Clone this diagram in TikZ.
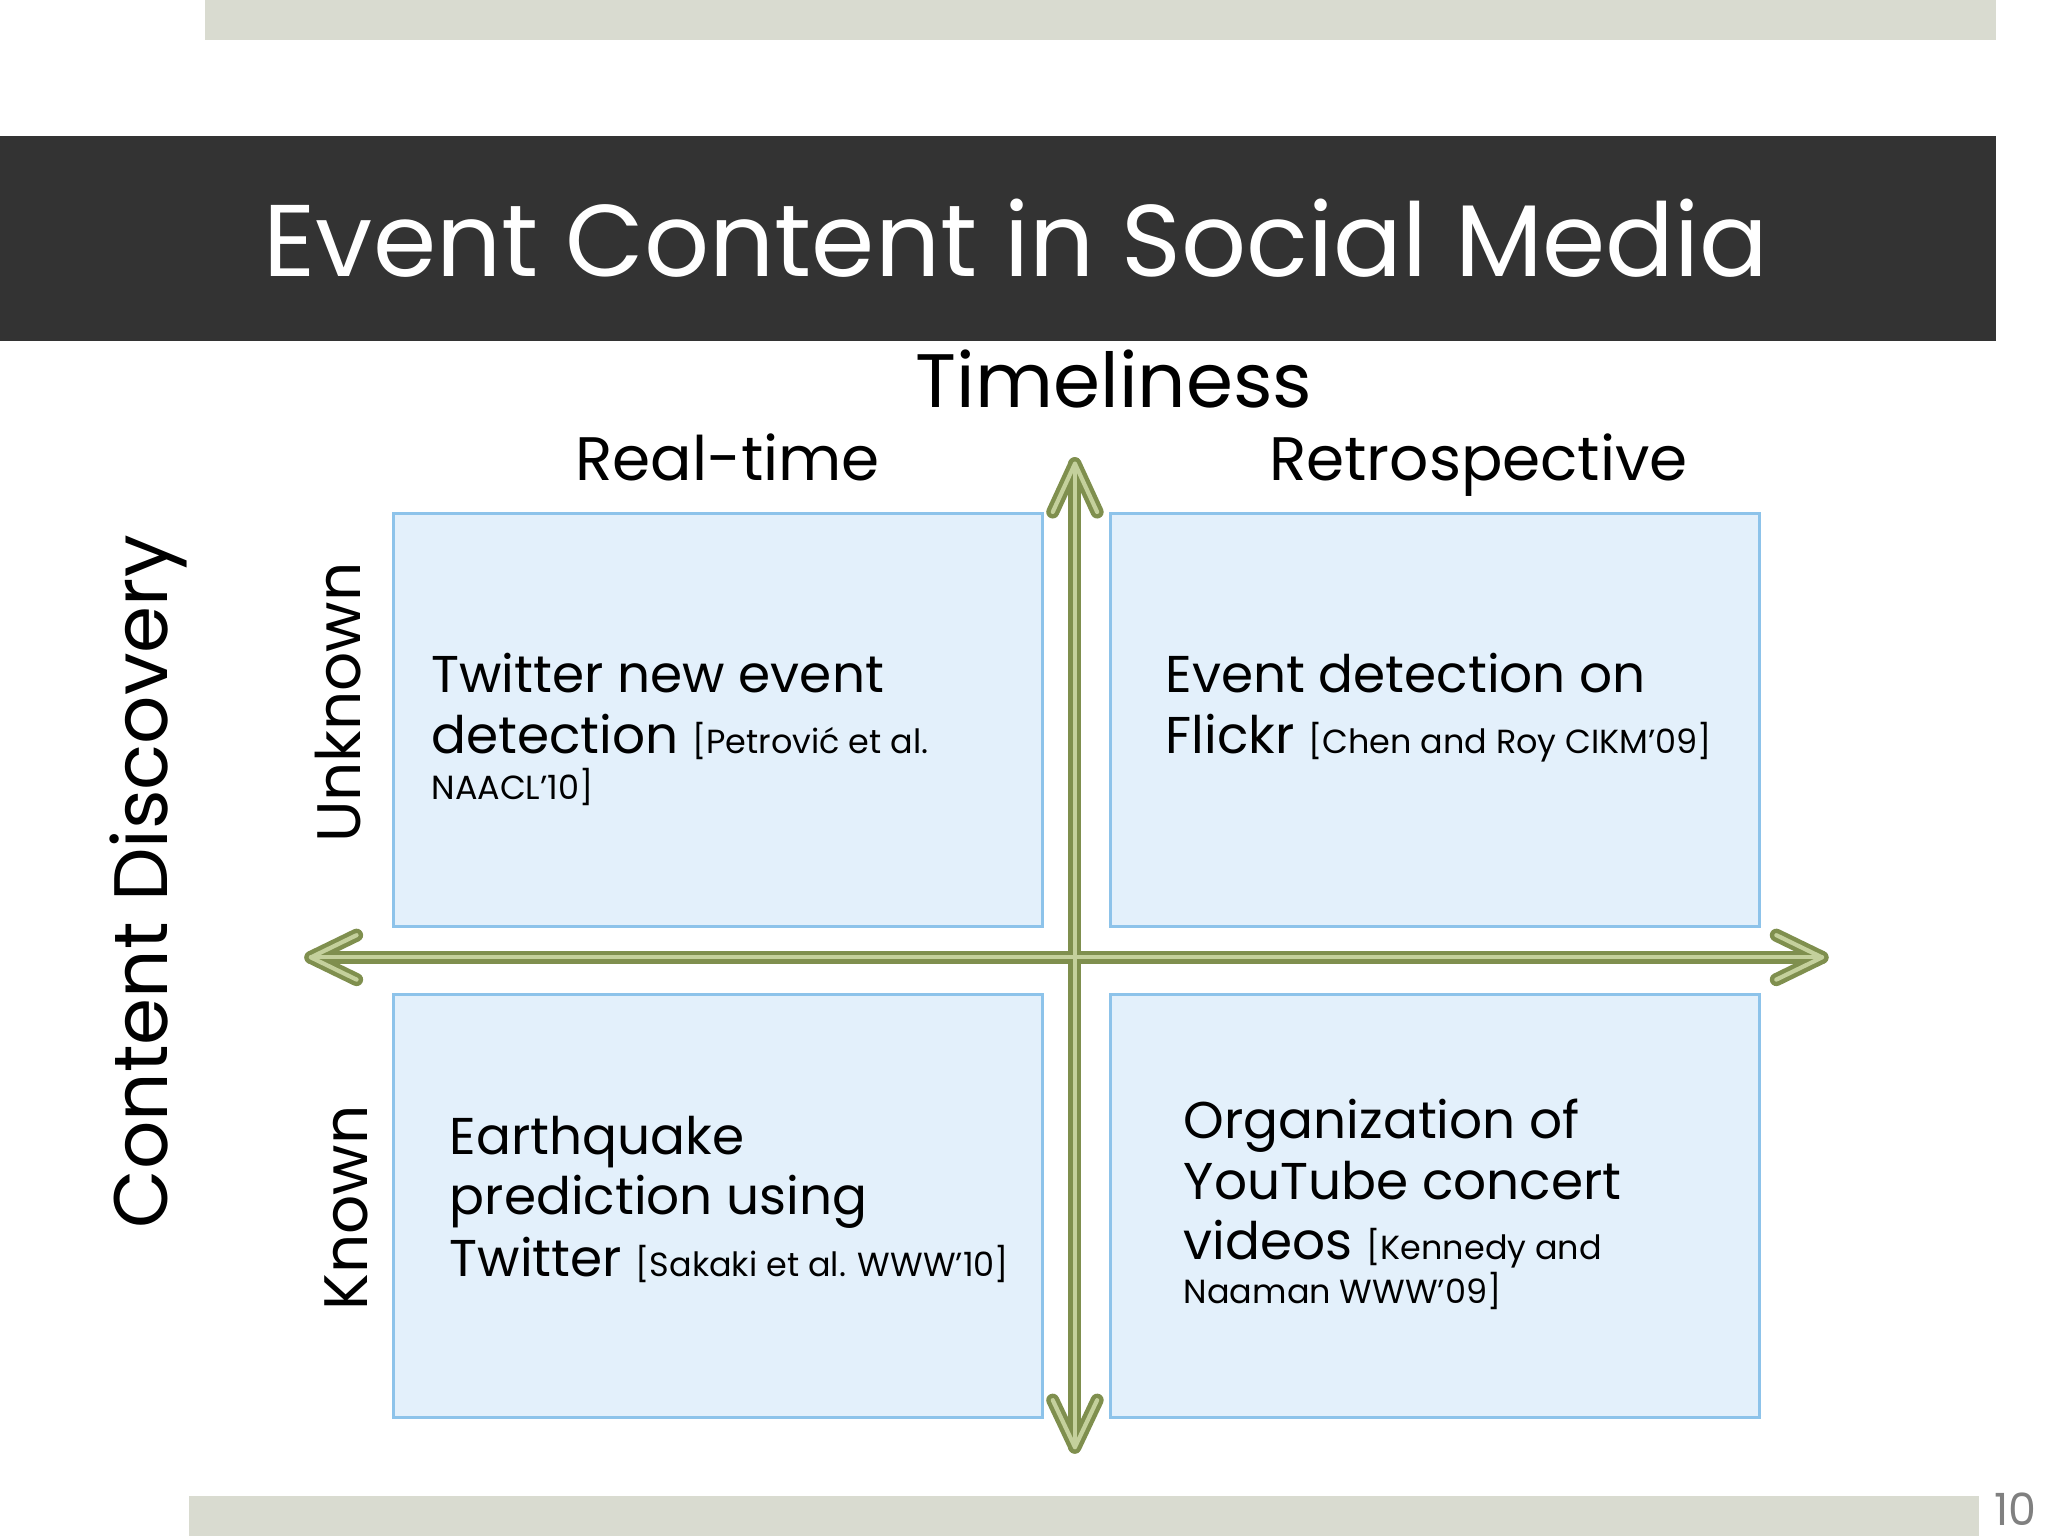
\documentclass[tikz,border=0pt]{standalone}
\usepackage{fontspec}
\setmainfont{Poppins}
\newcommand\csz{\fontsize{12.8}{15}\selectfont}
\begin{document}
\begin{tikzpicture}[x=0.5pt,y=-0.5pt,
  qbox/.style={fill=qfill,draw=qline,line width=1.2pt},
  big/.style={font=\fontsize{19.8}{23}\selectfont,anchor=base west,inner sep=0},
  citestyle/.style={font=\csz},
  axisout/.style={draw=axdark,line width=5pt,line cap=round,line join=round},
  axisin/.style={draw=axlight,line width=1.6pt,line cap=round,line join=round}]
\definecolor{qfill}{HTML}{E3F0FB}
\definecolor{qline}{HTML}{8DC3EA}
\definecolor{axdark}{HTML}{7F8F4E}
\definecolor{axlight}{HTML}{C4D09C}
\definecolor{barc}{HTML}{D9DBD0}
\definecolor{bandc}{HTML}{333333}
\useasboundingbox (0,0) rectangle (1568,1176);
\fill[white] (0,0) rectangle (1568,1176);
\fill[barc] (157,0) rectangle (1528,31);
\fill[barc] (145,1145) rectangle (1515,1176);
\fill[bandc] (0,104) rectangle (1528,261);
\node[font=\fontsize{39}{44}\selectfont,text=white,anchor=base] (title) at (778,212) {Event Content in Social Media};
\node[font=\fontsize{17}{20}\selectfont,text=gray,anchor=base] (pg) at (1543,1168) {10};
% boxes
\node[qbox,minimum width=248.5pt,minimum height=158pt,anchor=north west] (tl) at (300,392) {};
\node[qbox,minimum width=248.5pt,minimum height=158pt,anchor=north west] (tr) at (849,392) {};
\node[qbox,minimum width=248.5pt,minimum height=162pt,anchor=north west] (bl) at (300,760) {};
\node[qbox,minimum width=248.5pt,minimum height=162pt,anchor=north west] (br) at (849,760) {};
% axes
\coordinate (vt) at (823,355); \coordinate (vb) at (823,1108);
\coordinate (hl) at (238,733); \coordinate (hr) at (1395,733);
\foreach \s in {axisout,axisin}{
 \draw[\s] (vt) -- (vb);
 \draw[\s] (hl) -- (hr);
 \draw[\s] (806,392) -- (vt) -- (840,392);
 \draw[\s] (806,1072) -- (vb) -- (840,1072);
 \draw[\s] (273,716) -- (hl) -- (273,750);
 \draw[\s] (1360,716) -- (hr) -- (1360,750);
}
% labels
\node[font=\fontsize{29}{34}\selectfont,anchor=base] (tim) at (853,312) {Timeliness};
\node[font=\fontsize{23.5}{28}\selectfont,anchor=base] (rt) at (557,368) {Real-time};
\node[font=\fontsize{23.5}{28}\selectfont,anchor=base] (retro) at (1132,368) {Retrospective};
\node[font=\fontsize{29}{34}\selectfont,anchor=base,rotate=90] (cd) at (128,675) {Content Discovery};
\node[font=\fontsize{23.5}{28}\selectfont,anchor=base,rotate=90] (unk) at (276,538) {Unknown};
\node[font=\fontsize{23.5}{28}\selectfont,anchor=base,rotate=90] (kn) at (281,925) {Known};
% texts
\node[big] (a1) at (330,530) {Twitter new event};
\node[big] (a2) at (330,577) {detection {\csz [Petrović et al.}};
\node[big,citestyle] (a3) at (330,612) {NAACL’10]};
\node[big] (b1) at (892,530) {Event detection on};
\node[big] (b2) at (892,577) {Flickr {\csz [Chen and Roy CIKM’09]}};
\node[big] (c1) at (344,884) {Earthquake};
\node[big] (c2) at (344,930) {prediction using};
\node[big] (c3) at (344,977) {Twitter {\csz [Sakaki et al. WWW’10]}};
\node[big] (d1) at (906,872) {Organization of};
\node[big] (d2) at (906,918) {YouTube concert};
\node[big] (d3) at (906,964) {videos {\csz [Kennedy and}};
\node[big,citestyle] (d4) at (906,998) {Naaman WWW’09]};
\end{tikzpicture}
\end{document}
